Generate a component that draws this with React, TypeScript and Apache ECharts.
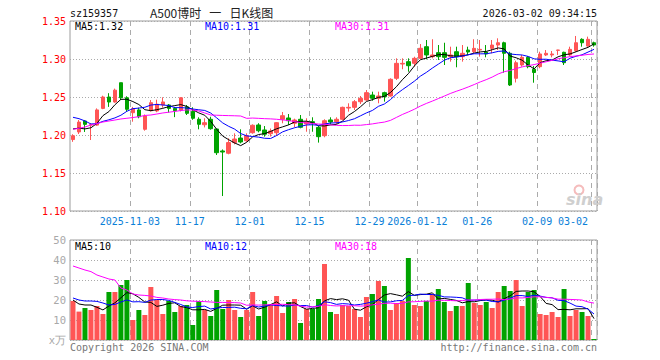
import React, { useEffect, useRef } from 'react';
import * as echarts from 'echarts';

// ---- data ----
const TRADING_DAYS: [string, number[]][] = [
  ['2025-10', [20, 21, 22, 23, 24, 27, 28, 29, 30, 31]],
  ['2025-11', [3, 4, 5, 6, 7, 10, 11, 12, 13, 14, 17, 18, 19, 20, 21, 24, 25, 26, 27, 28]],
  ['2025-12', [1, 2, 3, 4, 5, 8, 9, 10, 11, 12, 15, 16, 17, 18, 19, 22, 23, 24, 25, 26, 29, 30, 31]],
  ['2026-01', [5, 6, 7, 8, 9, 12, 13, 14, 15, 16, 19, 20, 21, 22, 23, 26, 27, 28, 29, 30]],
  ['2026-02', [2, 3, 4, 5, 6, 9, 10, 11, 12, 13, 24, 25, 26, 27]],
  ['2026-03', [2]],
];
const DATES = TRADING_DAYS.flatMap(([m, ds]) => ds.map((d) => `${m}-${String(d).padStart(2, '0')}`));

const TICK_DATES = ['2025-11-03', '2025-11-17', '2025-12-01', '2025-12-15', '2025-12-29', '2026-01-12', '2026-01-26', '2026-02-09', '2026-03-02'];
const TICK_LABELS = ['2025-11-03', '11-17', '12-01', '12-15', '12-29', '2026-01-12', '01-26', '02-09', '03-02'];

const OPEN = [
  1.194, 1.204, 1.2184, 1.213, 1.213, 1.235, 1.25, 1.2434, 1.2688, 1.249,
  1.2293, 1.233, 1.2075, 1.232, 1.2316, 1.2395, 1.2395, 1.235, 1.2329, 1.237,
  1.231, 1.2207, 1.2135, 1.2207, 1.2079, 1.179, 1.176, 1.19, 1.196, 1.1925,
  1.203, 1.2132, 1.2066, 1.2017, 1.203, 1.2207, 1.2224, 1.2154, 1.2207, 1.2145,
  1.2175, 1.21, 1.1991, 1.2198, 1.2175, 1.2207, 1.2355, 1.2364, 1.2438, 1.2461,
  1.2526, 1.2483, 1.2557, 1.2513, 1.2746, 1.2934, 1.2965, 1.2943, 1.3009, 1.3162,
  1.3031, 1.3083, 1.3083, 1.3031, 1.3096, 1.3031, 1.3118, 1.3096, 1.3118, 1.3092,
  1.314, 1.3184, 1.3214, 1.3075, 1.2746, 1.2921, 1.3022, 1.2866, 1.2899, 1.3053,
  1.3053, 1.3114, 1.3088, 1.3053, 1.3109, 1.3259, 1.3171, 1.3214,
];
const CLOSE = [
  1.199, 1.217, 1.214, 1.2135, 1.233, 1.25, 1.2434, 1.259, 1.249, 1.2338,
  1.2346, 1.224, 1.225, 1.2425, 1.2405, 1.2435, 1.235, 1.232, 1.249, 1.2285,
  1.222, 1.2141, 1.2162, 1.2083, 1.1767, 1.1776, 1.19, 1.1947, 1.1908, 1.199,
  1.2128, 1.2056, 1.201, 1.2053, 1.2162, 1.2254, 1.2188, 1.2197, 1.2101, 1.2171,
  1.2158, 1.1978, 1.2188, 1.2171, 1.2207, 1.2364, 1.2364, 1.2438, 1.2483, 1.2557,
  1.2483, 1.2513, 1.2504, 1.2733, 1.2943, 1.2943, 1.2912, 1.3009, 1.3141, 1.3053,
  1.3053, 1.3031, 1.3022, 1.3053, 1.3031, 1.3075, 1.3092, 1.314, 1.3127, 1.3066,
  1.3184, 1.3214, 1.3075, 1.2658, 1.2951, 1.3022, 1.2899, 1.2822, 1.3066, 1.3075,
  1.3066, 1.3118, 1.2951, 1.3127, 1.3214, 1.3214, 1.3259, 1.3184,
];
const LOW = [
  1.191, 1.2013, 1.204, 1.1934, 1.212, 1.234, 1.237, 1.2425, 1.246, 1.2307,
  1.2175, 1.222, 1.2057, 1.231, 1.23, 1.236, 1.2295, 1.2235, 1.231, 1.2263,
  1.22, 1.2075, 1.21, 1.207, 1.1737, 1.1197, 1.1746, 1.1877, 1.189, 1.191,
  1.2017, 1.2035, 1.1978, 1.198, 1.1987, 1.2154, 1.2132, 1.2101, 1.2088, 1.2043,
  1.2043, 1.19, 1.197, 1.214, 1.2145, 1.2193, 1.2307, 1.2329, 1.2408, 1.2451,
  1.2451, 1.2417, 1.2439, 1.2504, 1.2724, 1.2865, 1.2833, 1.2899, 1.2996, 1.2996,
  1.3009, 1.2987, 1.2921, 1.2965, 1.2891, 1.2965, 1.3053, 1.3075, 1.3031, 1.3022,
  1.3075, 1.3118, 1.282, 1.2645, 1.2691, 1.2899, 1.2878, 1.2688, 1.2878, 1.3039,
  1.3022, 1.3053, 1.2921, 1.3039, 1.3096, 1.3162, 1.3162, 1.3162,
];
const HIGH = [
  1.201, 1.2197, 1.2195, 1.2155, 1.235, 1.2517, 1.255, 1.261, 1.2688, 1.251,
  1.237, 1.236, 1.227, 1.246, 1.2465, 1.2496, 1.2408, 1.237, 1.2496, 1.2395,
  1.2365, 1.2233, 1.222, 1.224, 1.208, 1.181, 1.1957, 1.2022, 1.2075, 1.2022,
  1.214, 1.2155, 1.2118, 1.2085, 1.217, 1.2303, 1.2276, 1.2215, 1.2263, 1.222,
  1.2233, 1.2118, 1.2207, 1.2233, 1.2233, 1.2373, 1.2417, 1.246, 1.2513, 1.2592,
  1.257, 1.257, 1.257, 1.2746, 1.3009, 1.3009, 1.3009, 1.303, 1.3197, 1.325,
  1.326, 1.3184, 1.3214, 1.3162, 1.3162, 1.3184, 1.3162, 1.326, 1.325, 1.3184,
  1.325, 1.3272, 1.3228, 1.3096, 1.2978, 1.3053, 1.3039, 1.2908, 1.3096, 1.3118,
  1.3105, 1.312, 1.3096, 1.3162, 1.3303, 1.3272, 1.3294, 1.3228,
];
// volume, 10k shares
const VOLUME = [
  19.5, 14.2, 16, 15, 17, 13, 24, 24, 27.5, 30,
  10, 15, 12.5, 26.5, 20, 13, 19.5, 14, 17, 17.5,
  7.5, 19.5, 15, 12, 25, 15.5, 20, 15, 11.5, 15,
  24, 12, 19.5, 18, 22, 13.5, 19, 20.5, 8.5, 15.5,
  15.5, 20.5, 38, 14, 13, 17.5, 17, 15.5, 11.5, 21.5,
  23, 29.5, 27, 15, 18.5, 19.5, 41, 17.5, 17, 19.5,
  23, 25.5, 19, 14.5, 17, 17, 28.5, 18.5, 17.5, 19,
  16, 24, 27, 24.5, 30, 17, 24, 25, 13, 12.5,
  14, 11.5, 25.5, 12, 15, 14, 12, 0.5,
];
// moving-average values before the window is full
const PRICE_MA5_HEAD = [1.208, 1.209, 1.208, 1.2095];
const PRICE_MA10_HEAD = [1.2233, 1.2215, 1.2185, 1.2145, 1.215, 1.218, 1.22, 1.2225, 1.226];
const PRICE_MA30_HEAD = [
  1.2075, 1.2088, 1.2105, 1.2132, 1.2151, 1.2171, 1.2184, 1.2197, 1.2211, 1.222,
  1.223, 1.2241, 1.2257, 1.2263, 1.2276, 1.229, 1.23, 1.231, 1.2322, 1.233,
  1.2329, 1.2316, 1.229, 1.2263, 1.226, 1.2257, 1.2255, 1.2253, 1.225,
];
const VOL_MA5_HEAD = [20, 18, 17.5, 17.5];
const VOL_MA10_HEAD = [21, 20, 19.5, 19.5, 19.3, 18.5, 17.5, 17.8, 19];
const VOL_MA30_HEAD = [
  37, 36, 35, 34.2, 32.5, 31.5, 30.5, 30, 26, 25,
  23, 22.5, 22.3, 22, 21.3, 21, 20.5, 20.2, 20, 19.6,
  19.4, 19.3, 19.2, 19, 18.8, 18.8, 18.7, 18.7, 18.5,
];

const UP = '#ff5555';
const DOWN = '#00a300';
const MONO = '"DejaVu Sans Mono", "Liberation Mono", monospace';

function movingAverage(values: number[], n: number, head: number[]): number[] {
  return values.map((_, i) => {
    if (i < n - 1) return head[i];
    let s = 0;
    for (let k = i - n + 1; k <= i; k++) s += values[k];
    return +(s / n).toFixed(4);
  });
}

const tickSet = new Set(TICK_DATES.map((d) => DATES.indexOf(d)));

function txt(text: string, x: number, y: number, fill: string, opts: any = {}) {
  return {
    type: 'text',
    x,
    y,
    silent: true,
    z: 50,
    style: {
      text,
      fill,
      font: opts.font || `10px ${MONO}`,
      align: opts.align || 'left',
      verticalAlign: 'middle',
    },
  };
}

export default function App() {
  const ref = useRef<HTMLDivElement>(null);
  useEffect(() => {
    if (!ref.current) return;
    const chart = echarts.init(ref.current, undefined, { renderer: 'svg' });
    const pMA5 = movingAverage(CLOSE, 5, PRICE_MA5_HEAD);
    const pMA10 = movingAverage(CLOSE, 10, PRICE_MA10_HEAD);
    const pMA30 = movingAverage(CLOSE, 30, PRICE_MA30_HEAD);
    const vMA5 = movingAverage(VOLUME, 5, VOL_MA5_HEAD);
    const vMA10 = movingAverage(VOLUME, 10, VOL_MA10_HEAD);
    const vMA30 = movingAverage(VOLUME, 30, VOL_MA30_HEAD);

    const splitX = {
      show: true,
      interval: (i: number) => tickSet.has(i),
      lineStyle: { color: '#ababab', type: [5, 4], width: 1 },
    };
    const lineSeries = (data: number[], color: string, xi: number) => ({
      type: 'line',
      xAxisIndex: xi,
      yAxisIndex: xi,
      data,
      symbol: 'none',
      silent: true,
      z: 5,
      lineStyle: { color, width: 1 },
      itemStyle: { color },
    });

    const option: any = {
      animation: false,
      backgroundColor: '#ffffff',
      textStyle: { fontFamily: MONO },
      grid: [
        { left: 70, top: 21, width: 527, height: 190, show: true, borderColor: '#9c9c9c', borderWidth: 1, outerBoundsMode: 'none' },
        { left: 70, top: 240, width: 527, height: 100, show: true, borderColor: '#9c9c9c', borderWidth: 1, outerBoundsMode: 'none' },
      ],
      xAxis: [
        {
          type: 'category',
          gridIndex: 0,
          data: DATES,
          boundaryGap: true,
          axisLine: { show: false },
          axisTick: { show: false },
          axisLabel: {
            interval: (i: number) => tickSet.has(i),
            formatter: (v: string) => {
              const k = TICK_DATES.indexOf(v);
              return k >= 0 ? TICK_LABELS[k] : '';
            },
            color: '#0a80d8',
            fontFamily: MONO,
            fontSize: 10,
            margin: 5,
            padding: [0, 6, 0, 0],
            alignMaxLabel: 'right',
            hideOverlap: false,
          },
          splitLine: splitX,
        },
        {
          type: 'category',
          gridIndex: 1,
          data: DATES,
          boundaryGap: true,
          axisLine: { show: false },
          axisTick: { show: false },
          axisLabel: { show: false },
          splitLine: splitX,
        },
      ],
      yAxis: [
        {
          type: 'value',
          gridIndex: 0,
          min: 1.1,
          max: 1.35,
          interval: 0.05,
          axisLine: { show: false },
          axisTick: { show: false },
          axisLabel: {
            color: '#ff0000',
            fontFamily: MONO,
            fontSize: 10,
            margin: 4,
            formatter: (v: number) => v.toFixed(2),
          },
          splitLine: { show: true, lineStyle: { color: '#aaaaaa', type: [1, 2], width: 1 } },
        },
        {
          type: 'value',
          gridIndex: 1,
          min: 0,
          max: 50,
          interval: 10,
          axisLine: { show: false },
          axisTick: { show: false },
          axisLabel: {
            color: '#a8a8a8',
            fontFamily: MONO,
            fontSize: 10.5,
            margin: 4,
            formatter: (v: number) => (v === 0 ? 'x万' : String(v)),
          },
          splitLine: { show: true, lineStyle: { color: '#aaaaaa', type: [1, 2], width: 1 } },
        },
      ],
      series: [
        {
          type: 'candlestick',
          xAxisIndex: 0,
          yAxisIndex: 0,
          barWidth: 4,
          silent: true,
          data: OPEN.map((o, i) => [o, CLOSE[i], LOW[i], HIGH[i]]),
          itemStyle: { color: UP, color0: DOWN, borderColor: UP, borderColor0: DOWN, borderWidth: 1 },
        },
        lineSeries(pMA5, '#000000', 0),
        lineSeries(pMA10, '#0000ff', 0),
        lineSeries(pMA30, '#ff00ff', 0),
        {
          type: 'bar',
          xAxisIndex: 1,
          yAxisIndex: 1,
          barWidth: 5,
          silent: true,
          data: VOLUME.map((v, i) => ({ value: v, itemStyle: { color: CLOSE[i] >= OPEN[i] ? UP : DOWN } })),
        },
        lineSeries(vMA5, '#000000', 1),
        lineSeries(vMA10, '#0000ff', 1),
        lineSeries(vMA30, '#ff00ff', 1),
      ],
      graphic: [
        txt('sz159357', 70, 13, '#111'),
        txt('A500博时   一   日K线图', 150, 12, '#222', { font: '12px "Noto Sans CJK SC", sans-serif' }),
        txt('2026-03-02 09:34:15', 597, 13, '#111', { align: 'right' }),
        txt('MA5:1.32', 75, 26, '#000000'),
        txt('MA10:1.31', 205, 26, '#0000ff'),
        txt('MA30:1.31', 335, 26, '#ff00ff'),
        txt('MA5:10', 75, 246, '#000000'),
        txt('MA10:12', 205, 246, '#0000ff'),
        txt('MA30:18', 335, 246, '#ff00ff'),
        txt('Copyright 2026 SINA.COM', 70, 347, '#777'),
        txt('http://finance.sina.com.cn', 597, 347, '#777', { align: 'right' }),
        {
          type: 'circle',
          silent: true,
          z: 1,
          shape: { cx: 579, cy: 190, r: 4.5 },
          style: { fill: 'none', stroke: '#f5bcbc', lineWidth: 2 },
        },
        {
          type: 'text',
          silent: true,
          z: 1,
          x: 566,
          y: 199,
          style: {
            text: 'sina',
            fill: '#cfcfcf',
            font: 'italic bold 16px "DejaVu Sans", sans-serif',
            align: 'left',
            verticalAlign: 'middle',
          },
        },
      ],
    };
    chart.setOption(option);
    return () => chart.dispose();
  }, []);
  return (
    <div
      ref={ref}
      style={{ position: 'fixed', left: 0, top: 0, width: 660, height: 360, background: '#fff' }}
    />
  );
}
